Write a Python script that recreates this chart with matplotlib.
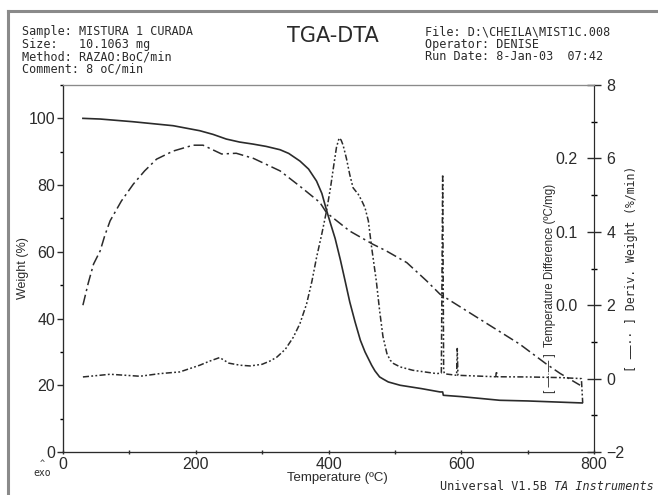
import matplotlib.pyplot as plt
from matplotlib.lines import Line2D
from matplotlib.ticker import MultipleLocator

plt.rcParams['font.family'] = ['Liberation Sans', 'DejaVu Sans']
MONO = 'DejaVu Sans Mono'
INK = '#2b2b2b'

# weight (%) - solid curve, left axis
temp_w = [30, 56, 105, 166, 206, 226, 246, 266, 286, 306, 327, 340, 357, 370,
          382, 390, 397, 403, 410, 418, 425, 432, 440, 448, 455, 465, 470, 477,
          482, 490, 508, 540, 568, 572, 573, 600, 658, 700, 782]
weight = [100, 99.8, 99.0, 97.8, 96.3, 95.2, 93.8, 92.9, 92.3, 91.6, 90.6,
          89.5, 87.2, 84.8, 81.2, 77.5, 72.5, 68.5, 64, 57.5, 51.3, 45, 39,
          33.5, 30, 26, 24.3, 22.5, 21.9, 21, 20, 19, 18, 18, 17, 16.6, 15.5,
          15.3, 14.7]

# temperature difference (C/mg) - dash-dot curve
temp_dta = [30, 38, 46, 56, 63, 71, 88, 106, 123, 141, 166, 196, 211, 239, 261,
            287, 327, 357, 387, 397, 432, 467, 487, 518, 548, 568, 628, 688,
            728, 749, 779]
temp_diff = [0.000, 0.030, 0.056, 0.074, 0.095, 0.115, 0.142, 0.165, 0.183,
             0.199, 0.210, 0.218, 0.218, 0.206, 0.207, 0.200, 0.183, 0.162,
             0.140, 0.126, 0.101, 0.083, 0.074, 0.058, 0.033, 0.015, -0.019,
             -0.053, -0.080, -0.093, -0.109]

# deriv. weight (%/min) - dash-dot-dot curve
temp_dw = [30, 71, 116, 146, 176, 206, 220, 236, 250, 267, 282, 300, 312, 322,
           335, 347, 357, 367, 375, 382, 390, 397, 403, 408, 412, 416, 419, 422,
           427, 432, 437, 445, 450, 455, 460, 465, 472, 477, 482, 488, 493, 498,
           508, 527, 563, 570, 572, 573.5, 575, 593, 594, 595, 652, 653, 654,
           700, 750, 781, 783]
deriv = [0.045, 0.118, 0.064, 0.136, 0.182, 0.364, 0.47, 0.573, 0.42, 0.364,
         0.345, 0.39, 0.48, 0.582, 0.8, 1.127, 1.5, 2.036, 2.65, 3.3, 3.95,
         4.564, 5.2, 5.82, 6.3, 6.555, 6.5, 6.36, 6.0, 5.56, 5.2, 5.018, 4.85,
         4.655, 4.3, 3.573, 2.664, 1.855, 1.15, 0.682, 0.5, 0.41, 0.318, 0.227,
         0.136, 0.15, 5.56, 0.2, 0.13, 0.09, 0.82, 0.09, 0.05, 0.2, 0.05, 0.045,
         0.027, 0.0, -0.67]

fig = plt.figure(figsize=(6.58, 4.95), dpi=100)

def px(x, y):
    return x / 658, 1 - y / 495

# outer grey frame
fig.add_artist(Line2D([8 / 658, 8 / 658], [0, 1 - 11 / 495], color='#8a8a8a', lw=2.2))
fig.add_artist(Line2D([8 / 658, 1], [1 - 11 / 495, 1 - 11 / 495], color='#8a8a8a', lw=2.2))

ax = fig.add_axes([63 / 658, 43 / 495, 531 / 658, 367 / 495])
ax2 = ax.twinx()
ax3 = ax.twinx()

ax.plot(temp_w, weight, color=INK, lw=1.2, zorder=3)
ax3.plot(temp_dta, temp_diff, color=INK, lw=1.1, ls=(0, (7, 2.5, 1.5, 2.5)))
ax2.plot(temp_dw, deriv, color=INK, lw=1.1, ls=(0, (4, 1.5, 1.2, 1.5, 1.2, 1.5)))

ax.set_xlim(0, 800)
ax.set_ylim(0, 110)
ax2.set_ylim(-2, 8)
ax3.set_ylim(-0.2, 0.3)

ax.xaxis.set_major_locator(MultipleLocator(200))
ax.xaxis.set_minor_locator(MultipleLocator(100))
ax.yaxis.set_minor_locator(MultipleLocator(10))
ax.set_yticks([0, 20, 40, 60, 80, 100])
ax2.yaxis.set_major_locator(MultipleLocator(2))
ax2.yaxis.set_minor_locator(MultipleLocator(1))
ax3.set_yticks([0.0, 0.1, 0.2])
ax3.set_yticklabels(['0.0', '0.1', '0.2'])

ax.tick_params(axis='y', which='major', direction='out', length=4.5, width=1,
               pad=1, labelsize=11.5, colors=INK)
ax.tick_params(axis='y', which='minor', direction='out', length=2.5, width=1)
ax.tick_params(axis='x', which='both', direction='inout', length=3, width=1,
               pad=2, labelsize=11.5, colors=INK)
ax2.tick_params(axis='y', which='major', direction='inout', length=10, width=1,
                pad=4, labelsize=11.5, colors=INK)
ax2.tick_params(axis='y', which='minor', direction='inout', length=5, width=1)
ax3.tick_params(axis='y', length=0, pad=-12, labelsize=11.5, colors=INK)
for lbl in ax3.get_yticklabels():
    lbl.set_horizontalalignment('right')

for a in (ax, ax2, ax3):
    for s in a.spines.values():
        s.set_color(INK)
    a.spines['top'].set_color('#8a8a8a')
ax3.spines['right'].set_visible(False)

ax.set_xlabel('Temperature (ºC)', fontsize=9.5, color=INK)
ax.xaxis.set_label_coords(0.516, -0.055)
ax.set_ylabel('Weight (%)', fontsize=9, color=INK)
ax.yaxis.set_label_coords(-0.064, 0.5)

# rotated legend labels on the right
fig.text(*px(550, 393), '[ —·— ]  Temperature Difference (ºC/mg)', rotation=90,
         ha='center', va='bottom', fontsize=8.3, color=INK)
fig.text(*px(632, 372), '[ ——·· ] Deriv. Weight (%/min)', rotation=90,
         ha='center', va='bottom', fontsize=8.3, family=MONO, color=INK)

# header block
left_lines = ['Sample: MISTURA 1 CURADA', 'Size:   10.1063 mg',
              'Method: RAZAO:BoC/min', 'Comment: 8 oC/min']
right_lines = ['File: D:\\CHEILA\\MIST1C.008', 'Operator: DENISE',
               'Run Date: 8-Jan-03  07:42']
for i, t in enumerate(left_lines):
    fig.text(*px(22, 32 + 12.5 * i), t, fontsize=8.5, family=MONO,
             va='center', color=INK)
for i, t in enumerate(right_lines):
    fig.text(*px(425, 32 + 12.5 * i), t, fontsize=8.5, family=MONO,
             va='center', color=INK)
fig.text(*px(333, 36), 'TGA-DTA', fontsize=15, family='DejaVu Sans',
         ha='center', va='center', color=INK)

# footer
fig.text(*px(440, 486), 'Universal V1.5B', fontsize=8.5, family=MONO,
         va='center', color=INK)
fig.text(*px(554, 486), 'TA Instruments', fontsize=8.5, family=MONO,
         style='italic', va='center', color=INK)
fig.text(*px(42, 463), '^', fontsize=6, family=MONO, ha='center', va='center', color=INK)
fig.text(*px(42, 473), 'exo', fontsize=7, family=MONO, ha='center', va='center', color=INK)

fig.savefig('out.png', dpi=100)
